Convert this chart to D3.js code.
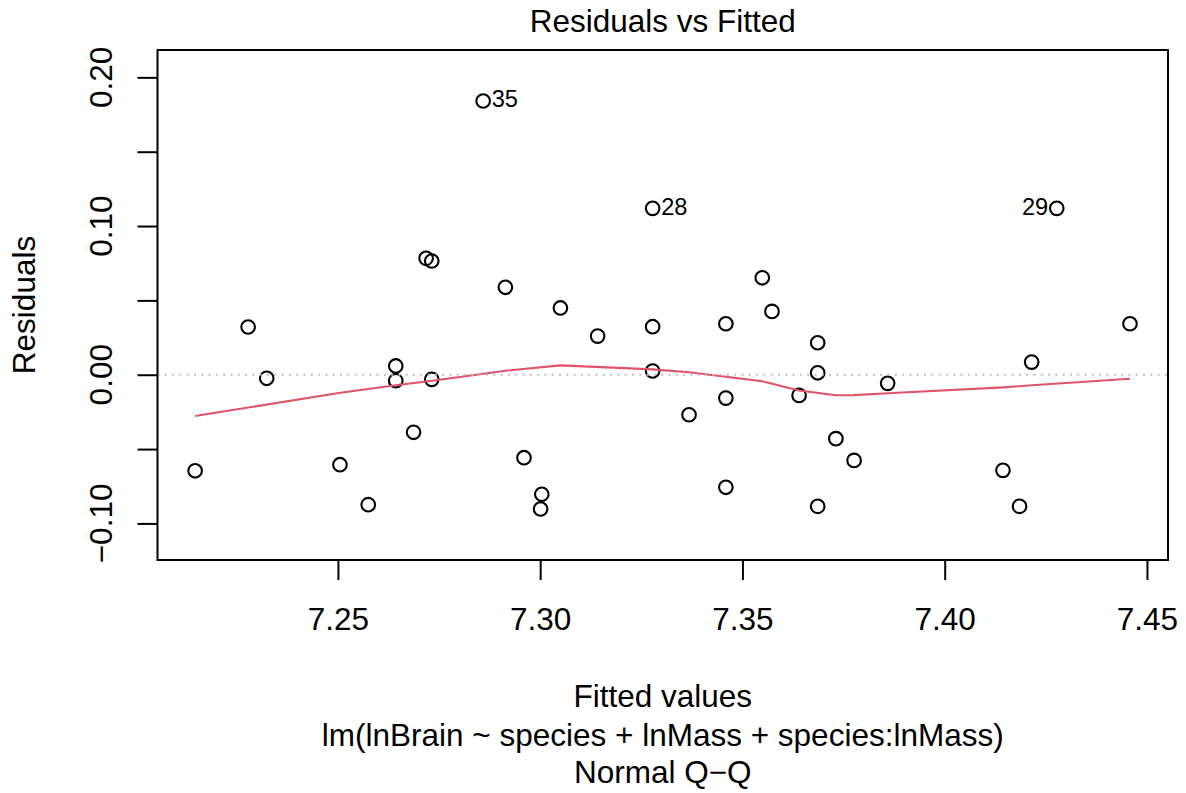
<!DOCTYPE html>
<html>
<head>
<meta charset="utf-8">
<script src="https://cdn.jsdelivr.net/npm/d3@7"></script>
<style>
    body { margin: 0; background: #fff; }
    svg text { font-family: "Liberation Sans", Arial, Helvetica, sans-serif; fill: #000; }
</style>
</head>
<body>
<svg width="1186" height="793"></svg>
<script>
// fitted values and residuals
const fitted = [7.2147, 7.2278, 7.2324, 7.2505, 7.2575, 7.2643, 7.2643, 7.2687, 7.2718, 7.2732,
                7.2732, 7.2859, 7.2914, 7.2960, 7.3004, 7.3001, 7.3050, 7.3142, 7.3278, 7.3278,
                7.3278, 7.3368, 7.3459, 7.3459, 7.3459, 7.3549, 7.3573, 7.3640, 7.3686, 7.3686,
                7.3686, 7.3731, 7.3776, 7.3859, 7.4144, 7.4185, 7.4215, 7.4277, 7.4458]
const resid = [-0.0646, 0.0321, -0.0024, -0.0605, -0.0874, 0.0059, -0.0040, -0.0387, 0.0783, 0.0765,
               -0.0031, 0.1841, 0.0588, -0.0558, -0.0804, -0.0903, 0.0449, 0.0260, 0.1119, 0.0323,
               0.0025, -0.0269, 0.0343, -0.0157, -0.0757, 0.0652, 0.0426, -0.0139, 0.0215, 0.0013,
               -0.0885, -0.0430, -0.0576, -0.0058, -0.0643, -0.0885, 0.0085, 0.1119, 0.0343]

// smoother (red line)
const smoothX = [7.2147, 7.2506, 7.2643, 7.2733, 7.2914, 7.3050, 7.3278, 7.3368, 7.3459, 7.3549,
                 7.3640, 7.3731, 7.3776, 7.3859, 7.4144, 7.4215, 7.4458]
const smoothY = [-0.0278, -0.0121, -0.0071, -0.0040, 0.0027, 0.0063, 0.0036, 0.0017, -0.0013, -0.0044,
                 -0.0106, -0.0138, -0.0137, -0.0125, -0.0085, -0.0071, -0.0027]

// labelled points
const labelIndex = [11, 18, 37]
const labelText = ['35', '28', '29']

const xTicks = [7.25, 7.30, 7.35, 7.40, 7.45]
const yTicks = [-0.10, -0.05, 0.00, 0.05, 0.10, 0.15, 0.20]
const yTickLabels = [-0.10, 0.00, 0.10, 0.20]

const title = 'Residuals vs Fitted'
const xLabel = 'Fitted values'
const yLabel = 'Residuals'
const subCaption = 'lm(lnBrain ~ species + lnMass + species:lnMass)'
const extraCaption = 'Normal Q\u2212Q'

let svg = d3.select('svg')
let box = { left: 157.5, right: 1168, top: 50, bottom: 560 }
let fontSize = 31.5

let scale = {
    x: d3.scaleLinear().domain([7.2054, 7.4552]).range([box.left, box.right]),
    y: d3.scaleLinear().domain([-0.1246, 0.2184]).range([box.bottom, box.top])
}

let pts = fitted.map((f, i) => ({ x: f, y: resid[i] }))

// points
svg.append('g')
    .selectAll('circle')
    .data(pts)
    .enter()
    .append('circle')
    .attr('cx', d => scale.x(d.x))
    .attr('cy', d => scale.y(d.y))
    .attr('r', 6.8)
    .attr('fill', 'none')
    .attr('stroke', '#000')
    .attr('stroke-width', 2.1)

// smoother
let line = d3.line()
    .x(d => scale.x(d[0]))
    .y(d => scale.y(d[1]))

svg.append('path')
    .datum(smoothX.map((x, i) => [x, smoothY[i]]))
    .attr('d', line)
    .attr('fill', 'none')
    .attr('stroke', '#DF536B')
    .attr('stroke-width', 2.1)

// zero line
svg.append('line')
    .attr('x1', box.left)
    .attr('x2', box.right)
    .attr('y1', scale.y(0))
    .attr('y2', scale.y(0))
    .attr('stroke', '#bebebe')
    .attr('stroke-width', 2)
    .attr('stroke-dasharray', '2,5.3')

// point labels, left or right of the point like plot.lm does
let midX = (d3.min(fitted) + d3.max(fitted)) / 2
svg.append('g')
    .selectAll('text')
    .data(labelIndex)
    .enter()
    .append('text')
    .attr('x', d => scale.x(fitted[d]) + (fitted[d] < midX ? 8.5 : -8.5))
    .attr('y', d => scale.y(resid[d]) + 6.4)
    .attr('text-anchor', d => fitted[d] < midX ? 'start' : 'end')
    .attr('font-size', fontSize * 0.75)
    .text((d, i) => labelText[i])

// X axis
let xAxis = svg.append('g')
    .attr('transform', `translate(0,${box.bottom})`)
    .call(d3.axisBottom(scale.x).tickValues(xTicks).tickSize(20).tickPadding(27.6)
        .tickFormat(d3.format('.2f')))
xAxis.select('.domain').remove()
xAxis.selectAll('line').attr('stroke', '#000').attr('stroke-width', 2)
xAxis.selectAll('text')
    .attr('font-size', fontSize)
    .attr('font-family', null)

// Y axis
let yAxis = svg.append('g')
    .attr('transform', `translate(${box.left},0)`)
    .call(d3.axisLeft(scale.y).tickValues(yTicks).tickSize(20).tickFormat(''))
yAxis.select('.domain').remove()
yAxis.selectAll('line').attr('stroke', '#000').attr('stroke-width', 2)

svg.append('g')
    .selectAll('text')
    .data(yTickLabels)
    .enter()
    .append('text')
    .attr('transform', d => `translate(112,${scale.y(d)}) rotate(-90)`)
    .attr('text-anchor', 'middle')
    .attr('font-size', fontSize)
    .text(d => d3.format('.2f')(d).replace('-', '\u2212'))

// box
svg.append('rect')
    .attr('x', box.left)
    .attr('y', box.top)
    .attr('width', box.right - box.left)
    .attr('height', box.bottom - box.top)
    .attr('fill', 'none')
    .attr('stroke', '#000')
    .attr('stroke-width', 2)

let cx = (box.left + box.right) / 2

// title
svg.append('text')
    .attr('x', cx)
    .attr('y', 32.3)
    .attr('text-anchor', 'middle')
    .attr('font-size', fontSize)
    .text(title)

// X label + captions
svg.append('text')
    .attr('x', cx)
    .attr('y', 706.7)
    .attr('text-anchor', 'middle')
    .attr('font-size', fontSize)
    .text(xLabel)

svg.append('text')
    .attr('x', cx)
    .attr('y', 745.5)
    .attr('text-anchor', 'middle')
    .attr('font-size', fontSize)
    .text(subCaption)

svg.append('text')
    .attr('x', cx)
    .attr('y', 782.5)
    .attr('text-anchor', 'middle')
    .attr('font-size', fontSize)
    .text(extraCaption)

// Y label
svg.append('text')
    .attr('transform', `translate(35,${(box.top + box.bottom) / 2}) rotate(-90)`)
    .attr('text-anchor', 'middle')
    .attr('font-size', fontSize)
    .text(yLabel)
</script>
</body>
</html>
